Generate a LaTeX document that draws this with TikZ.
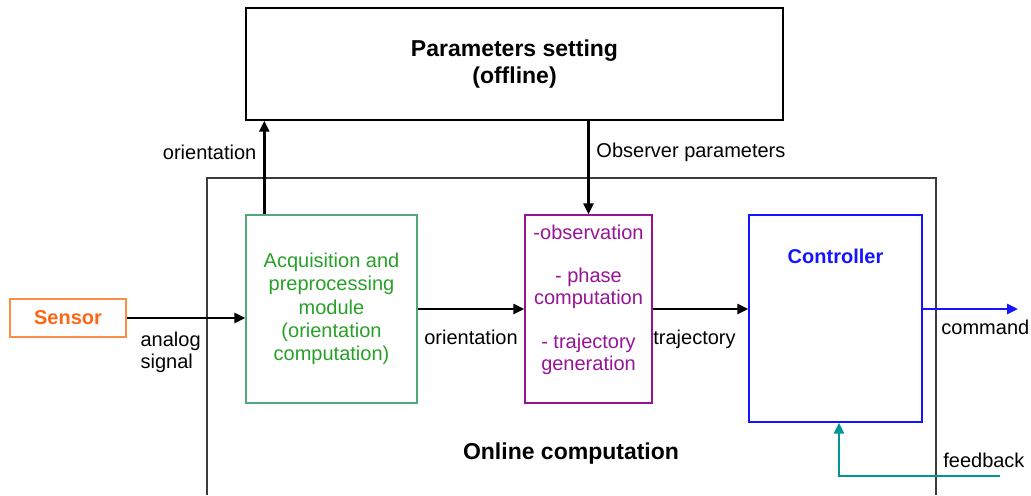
\documentclass[tikz,border=0pt]{standalone}
\usepackage{fontspec}
\setmainfont{Liberation Sans}
\usetikzlibrary{arrows.meta,positioning}

\definecolor{sensorcol}{RGB}{255,102,20}
\definecolor{sensorline}{RGB}{255,140,70}
\definecolor{acqcol}{RGB}{40,160,40}
\definecolor{acqline}{RGB}{80,170,120}
\definecolor{obscol}{RGB}{150,20,150}
\definecolor{ctrlcol}{RGB}{20,20,255}
\definecolor{fbcol}{RGB}{0,150,150}
\definecolor{onlinecol}{RGB}{60,60,60}

\begin{document}
\begin{tikzpicture}[x=0.5pt,y=-0.5pt,
    >={Triangle[length=5.5pt,width=5pt]},
    font=\fontsize{10}{11}\selectfont,
    arr/.style={->,line width=1.3pt},
    bigtxt/.style={font=\fontsize{11.5}{13.5}\selectfont\bfseries}]

  \useasboundingbox (0,0) rectangle (1031,495);

  % online part, open at the bottom
  \draw[onlinecol,line width=0.6pt] (207,495) |- (936,178) -- (936,495);

  \begin{scope}[every node/.style={draw,inner sep=0pt,line width=0.7pt}]
    \node[minimum width=268.5pt,minimum height=56pt,align=center,bigtxt]
      (par) at (514.5,64) {Parameters setting\\(offline)};
    \node[sensorline,text=sensorcol,minimum width=58pt,minimum height=19pt,font=\bfseries]
      (sen) at (68,318) {Sensor};
    \node[acqline,text=acqcol,minimum width=85.5pt,minimum height=94pt,align=center,
      font=\fontsize{10}{11.6}\selectfont]
      (acq) at (331.5,309) {Acquisition and\\preprocessing\\module\\(orientation\\computation)};
    \node[obscol,minimum width=63.5pt,minimum height=94pt] (obs) at (588.5,309) {};
    \node[ctrlcol,minimum width=86.5pt,minimum height=103.5pt] (ctrl) at (835.5,318.5) {};
  \end{scope}

  \node[obscol,inner sep=0pt,align=center,below=5pt of obs.north] (obstxt)
    {-observation\\[10.75pt]- phase\\computation\\[10.75pt]- trajectory\\generation};
  \node[ctrlcol,inner sep=0pt,font=\bfseries,below=17pt of ctrl.north] (ctrltxt) {Controller};
  \node[bigtxt] (online) at (571,454) {Online computation};

  \coordinate (cmd) at (1018,309);
  \coordinate (fb) at (1000,476);

  \draw[arr] (sen.east) -- node[pos=0.05,below right,yshift=-3pt,align=left] {analog\\signal} (sen.east -| acq.west);
  \draw[arr] ([xshift=9.5pt]acq.north west) -- node[pos=0.66,left] {orientation} ([xshift=9.5pt]acq.north west |- par.south);
  \draw[arr] (obs.north |- par.south) -- node[pos=0.34,right] {Observer parameters} (obs.north);
  \draw[arr] (acq.east) -- node[below=6.5pt] {orientation} (obs.west);
  \draw[arr] (obs.east) -- node[below=6.5pt,xshift=-3pt] {trajectory} (obs.east -| ctrl.west);
  \draw[arr,ctrlcol] (cmd -| ctrl.east) -- node[below=1.5pt,xshift=7.5pt,text=black] {command} (cmd);
  \draw[arr,fbcol] (fb) -| node[pos=0.05,above,text=black] {feedback} ([xshift=1.75pt]ctrl.south);

\end{tikzpicture}
\end{document}
